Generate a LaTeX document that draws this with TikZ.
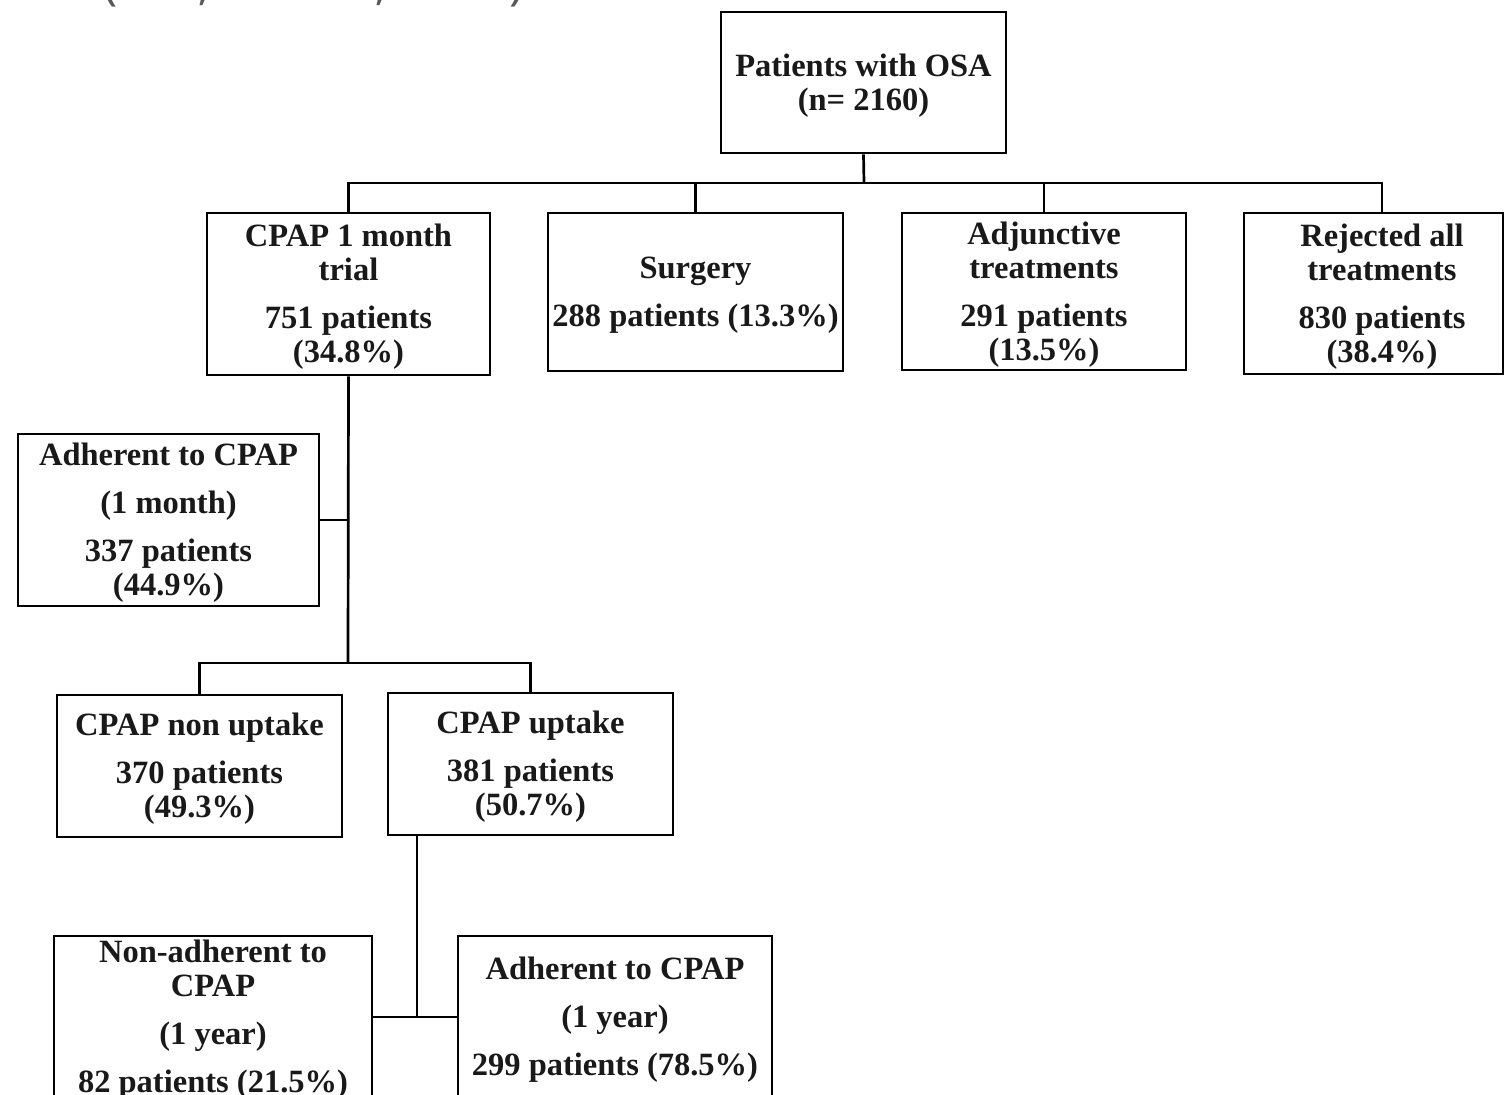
\documentclass[tikz,border=0pt]{standalone}
\usepackage{fontspec}
\setmainfont{Liberation Serif}
\newfontfamily\capfont{Open Sans}
\begin{document}
\begin{tikzpicture}[x=1pt,y=-1pt,
  box/.style={draw=black, line width=2.7pt, rectangle, inner sep=0pt},
  boxtext/.style={align=center, inner sep=0pt, yshift=-3pt,
    font=\fontsize{32.5}{34}\selectfont\bfseries, text=black!90},
  conn/.style={draw=black, line width=2.7pt}]
\useasboundingbox (0,0) rectangle (1505,1095);
\fill[white] (0,0) rectangle (1505,1095);
\node[anchor=base west, font=\capfont\fontsize{48}{48}\selectfont, text=black!65] (cite) at (100,-1) {(Yan, D' et al, 2015)};
% boxes
\node[box, minimum width=285pt, minimum height=141pt,
  label={[name=toptext, boxtext]center:{Patients with OSA\\(n= 2160)}}] (top) at (863.5,82.5) {};
\node[box, minimum width=283pt, minimum height=162pt,
  label={[name=cpaptext, boxtext]center:{CPAP 1 month\\trial\\[14pt]751 patients\\(34.8\%)}}] (cpap) at (348.5,294) {};
\node[box, minimum width=295pt, minimum height=158pt,
  label={[name=surgtext, boxtext]center:{Surgery\\[14pt]288 patients (13.3\%)}}] (surg) at (695.5,292) {};
\node[box, minimum width=284pt, minimum height=157pt,
  label={[name=adjtext, boxtext]center:{Adjunctive\\treatments\\[14pt]291 patients\\(13.5\%)}}] (adj) at (1044,291.5) {};
\node[box, minimum width=259pt, minimum height=161pt,
  label={[name=rejtext, boxtext, xshift=8.5pt]center:{Rejected all\\treatments\\[14pt]830 patients\\(38.4\%)}}] (rej) at (1373.5,293.5) {};
\node[box, minimum width=301pt, minimum height=172pt,
  label={[name=adh1text, boxtext]center:{Adherent to CPAP\\[14pt](1 month)\\[14pt]337 patients\\(44.9\%)}}] (adh1) at (168.5,520) {};
\node[box, minimum width=285pt, minimum height=142pt,
  label={[name=nonuptext, boxtext]center:{CPAP non uptake\\[14pt]370 patients\\(49.3\%)}}] (nonup) at (199.5,766) {};
\node[box, minimum width=285pt, minimum height=142pt,
  label={[name=uptext, boxtext]center:{CPAP uptake\\[14pt]381 patients\\(50.7\%)}}] (up) at (530.5,764) {};
\node[box, minimum width=318pt, minimum height=162pt,
  label={[name=nonadhtext, boxtext]center:{Non-adherent to\\CPAP\\[14pt](1 year)\\[14pt]82 patients (21.5\%)}}] (nonadh) at (213,1017) {};
\node[box, minimum width=314pt, minimum height=162pt,
  label={[name=adh2text, boxtext]center:{Adherent to CPAP\\[14pt](1 year)\\[14pt]299 patients (78.5\%)}}] (adh2) at (615,1017) {};
% connectors
\coordinate (bus) at (864,183);
\coordinate (rejtop) at (1382,213);
\coordinate (split1) at (348,663);
\coordinate (j2) at (417,1017);
\draw[conn] (top.south) -- (bus);
\draw[conn] (cpap.north) -- (cpap.north |- bus) -- (rejtop |- bus) -- (rejtop);
\draw[conn] (surg.north) -- (surg.north |- bus);
\draw[conn] (adj.north) -- (adj.north |- bus);
\draw[conn] (cpap.south) -- (split1);
\draw[conn] (adh1.east) -- (adh1.east -| split1);
\draw[conn] (nonup.north) -- (nonup.north |- split1) -- (up.north |- split1) -- (up.north);
\draw[conn] (nonadh.east) -- (adh2.west);
\draw[conn] (up.south -| j2) -- (j2);
\end{tikzpicture}
\end{document}
